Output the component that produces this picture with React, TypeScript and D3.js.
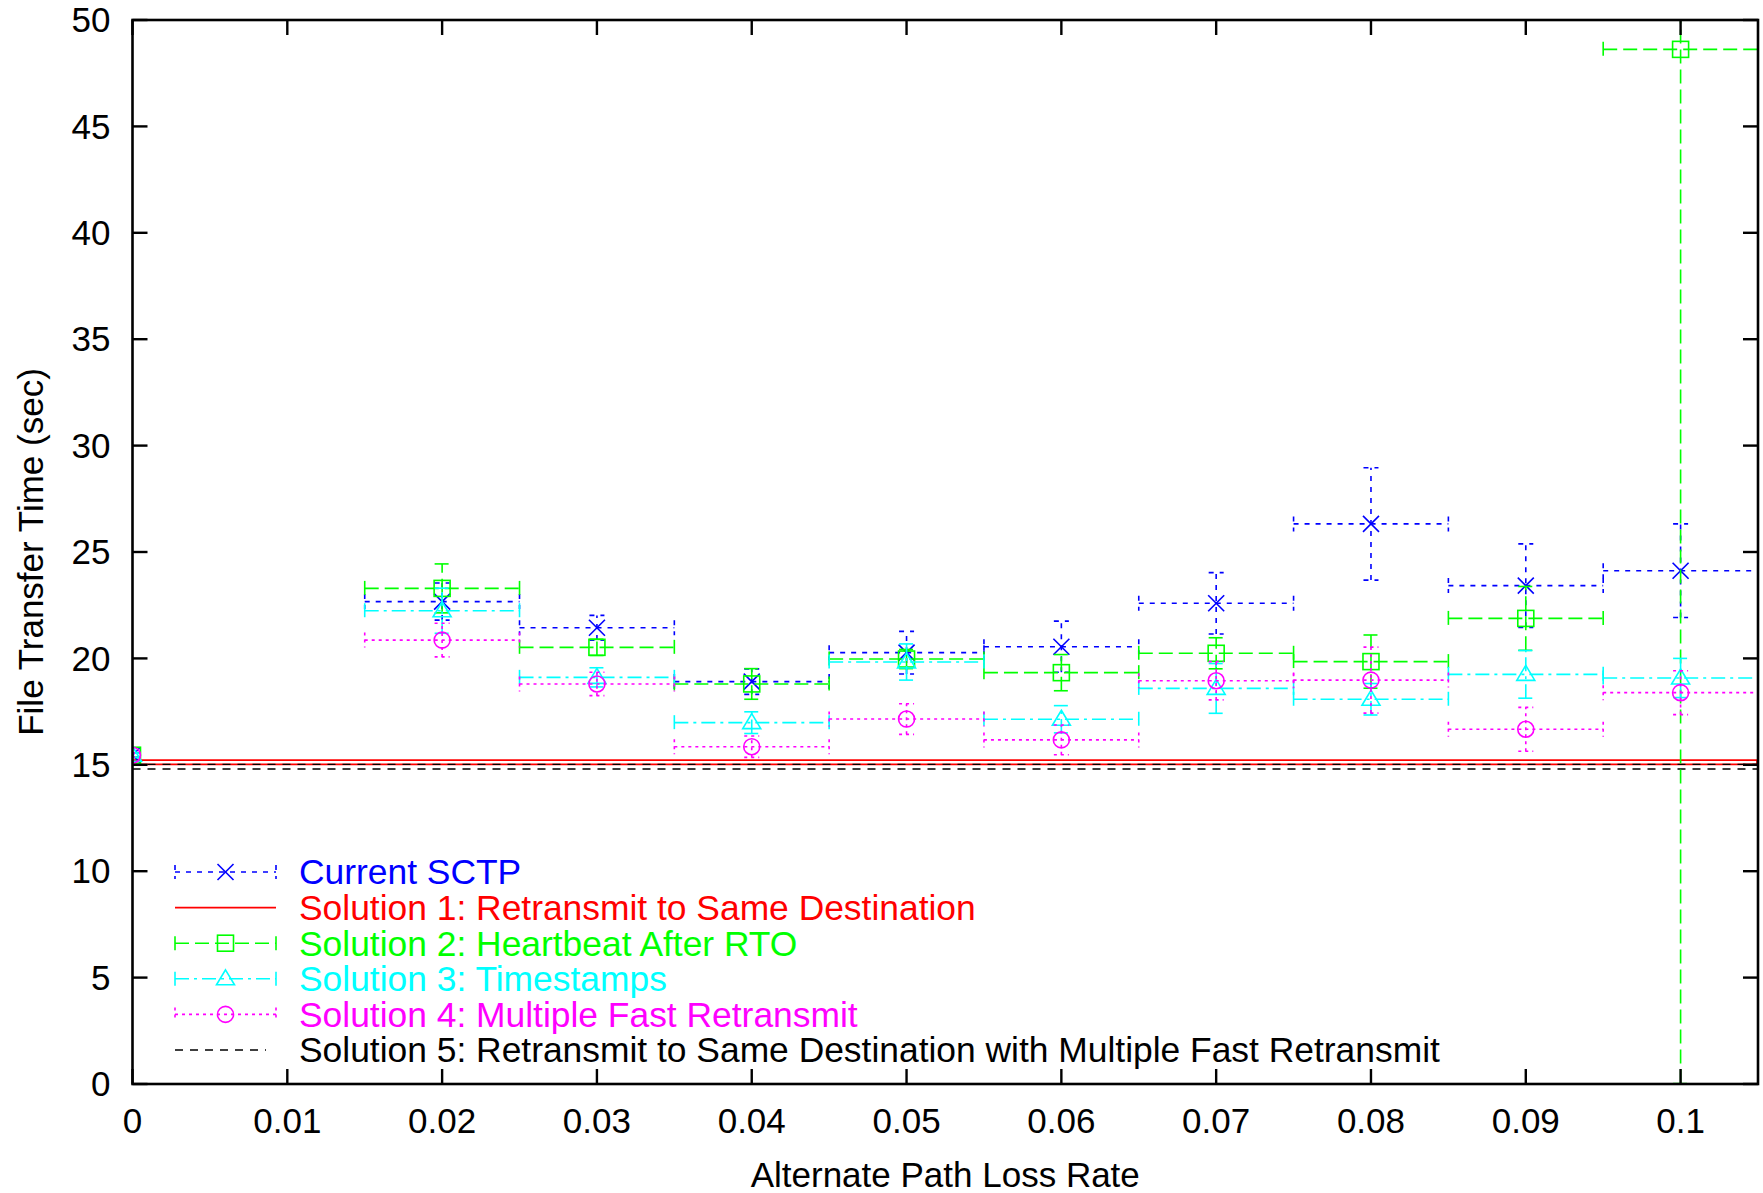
import * as d3 from 'd3';

// x positions (loss rate) shared by all measured series
const lossRates = [0, 0.02, 0.03, 0.04, 0.05, 0.06, 0.07, 0.08, 0.09, 0.1];
const xHalfWidth = [0, 0.005, 0.005, 0.005, 0.005, 0.005, 0.005, 0.005, 0.005, 0.005];

const currentMean = [15.45, 22.67, 21.44, 18.91, 20.27, 20.55, 22.59, 26.32, 23.42, 24.12];
const currentErr = [0.1, 0.87, 0.58, 0.6, 1.0, 1.2, 1.44, 2.64, 1.96, 2.2];

const sol2Mean = [15.45, 23.29, 20.52, 18.8, 19.97, 19.33, 20.24, 19.85, 21.88, 48.62];
const sol2Err = [0.1, 1.15, 0.38, 0.72, 0.45, 0.85, 0.73, 1.25, 1.5, 48.6];

const sol3Mean = [15.45, 22.24, 19.11, 16.98, 19.83, 17.14, 18.59, 18.08, 19.25, 19.08];
const sol3Err = [0.1, 1.06, 0.45, 0.51, 0.85, 0.64, 1.17, 0.74, 1.12, 0.92];

const sol4Mean = [15.45, 20.86, 18.8, 15.85, 17.15, 16.17, 18.95, 18.98, 16.67, 18.39];
const sol4Err = [0.1, 0.79, 0.55, 0.5, 0.72, 0.7, 0.9, 1.55, 1.03, 1.03];

// flat reference results (upper / lower bound lines)
const sol1Levels = [15.22, 15.02];
const sol5Levels = [15.02, 14.8];

const xTicks = [0, 0.01, 0.02, 0.03, 0.04, 0.05, 0.06, 0.07, 0.08, 0.09, 0.1];
const yTicks = [0, 5, 10, 15, 20, 25, 30, 35, 40, 45, 50];

const legendLabels = [
  'Current SCTP',
  'Solution 1: Retransmit to Same Destination',
  'Solution 2: Heartbeat After RTO',
  'Solution 3: Timestamps',
  'Solution 4: Multiple Fast Retransmit',
  'Solution 5: Retransmit to Same Destination with Multiple Fast Retransmit',
];

const width = 1763;
const height = 1193;
const margin = { top: 20, right: 5, bottom: 109, left: 132.5 };
const FONT = "'Liberation Sans', Arial, Helvetica, sans-serif";
const FS = 35;

type Marker = 'x' | 'square' | 'triangle' | 'circle';

const series = [
  { mean: currentMean, err: currentErr, color: '#0000ff', dash: '5,6', marker: 'x' as Marker },
  { mean: sol2Mean, err: sol2Err, color: '#00ff00', dash: '14,6', marker: 'square' as Marker },
  { mean: sol3Mean, err: sol3Err, color: '#00ffff', dash: '14,5,3,5', marker: 'triangle' as Marker },
  { mean: sol4Mean, err: sol4Err, color: '#ff00ff', dash: '3,4', marker: 'circle' as Marker },
];

function MarkerShape({ kind, x, y, color }: { kind: Marker; x: number; y: number; color: string }) {
  const s = 8;
  const common = { fill: 'none', stroke: color, strokeWidth: 1.6 };
  if (kind === 'x')
    return (
      <g {...common}>
        <line x1={x - s} y1={y - s} x2={x + s} y2={y + s} />
        <line x1={x - s} y1={y + s} x2={x + s} y2={y - s} />
      </g>
    );
  if (kind === 'square') return <rect x={x - s} y={y - s} width={2 * s} height={2 * s} {...common} />;
  if (kind === 'triangle')
    return <path d={`M${x},${y - s - 1}L${x + s + 1},${y + s - 2}L${x - s - 1},${y + s - 2}Z`} {...common} />;
  return <circle cx={x} cy={y} r={s} {...common} />;
}

export default function App() {
  const x = d3
    .scaleLinear()
    .domain([0, 0.105])
    .range([margin.left, width - margin.right]);
  const y = d3
    .scaleLinear()
    .domain([0, 50])
    .range([height - margin.bottom, margin.top]);

  const [x0, x1] = x.range();
  const [y0, y1] = y.range();
  const cap = 7.5;

  return (
    <svg
      width={width}
      height={height}
      style={{ position: 'absolute', left: 0, top: 0, background: '#fff' }}
      fontFamily={FONT}
    >
      <defs>
        <clipPath id="plot">
          <rect x={x0} y={y1} width={x1 - x0} height={y0 - y1} />
        </clipPath>
      </defs>

      {/* flat reference results */}
      <g clipPath="url(#plot)">
        {sol1Levels.map((v, i) => (
          <line key={'s1' + i} x1={x0} x2={x1} y1={y(v)} y2={y(v)} stroke="#ff0000" strokeWidth={1.6} />
        ))}
        <line x1={x1 - 1} x2={x1 - 1} y1={y(sol1Levels[0])} y2={y(sol1Levels[1])} stroke="#ff0000" strokeWidth={1.6} />
        {sol5Levels.map((v, i) => (
          <line key={'s5' + i} x1={x0} x2={x1} y1={y(v)} y2={y(v)} stroke="#000" strokeWidth={1.4} strokeDasharray="8,7" />
        ))}
      </g>

      {/* error bars with markers */}
      <g clipPath="url(#plot)">
        {series.map((s, si) => (
          <g key={si}>
            {lossRates.map((r, i) => {
              const cx = x(r);
              const cy = y(s.mean[i]);
              const lo = y(s.mean[i] - s.err[i]);
              const hi = y(s.mean[i] + s.err[i]);
              const xl = x(r - xHalfWidth[i]);
              const xr = x(r + xHalfWidth[i]);
              const st = { stroke: s.color, strokeWidth: 1.6, strokeDasharray: s.dash, fill: 'none' };
              return (
                <g key={i}>
                  <line x1={cx} x2={cx} y1={lo} y2={hi} {...st} />
                  <line x1={cx - cap} x2={cx + cap} y1={lo} y2={lo} {...st} />
                  <line x1={cx - cap} x2={cx + cap} y1={hi} y2={hi} {...st} />
                  {xHalfWidth[i] > 0 && (
                    <>
                      <line x1={xl} x2={xr} y1={cy} y2={cy} {...st} />
                      <line x1={xl} x2={xl} y1={cy - cap} y2={cy + cap} {...st} />
                      <line x1={xr} x2={xr} y1={cy - cap} y2={cy + cap} {...st} />
                    </>
                  )}
                  <MarkerShape kind={s.marker} x={cx} y={cy} color={s.color} />
                </g>
              );
            })}
          </g>
        ))}
      </g>

      {/* frame and ticks on all sides */}
      <rect x={x0} y={y1} width={x1 - x0} height={y0 - y1} fill="none" stroke="#000" strokeWidth={2.6} />
      {xTicks.map((t) => (
        <g key={'xt' + t} stroke="#000" strokeWidth={2.4}>
          <line x1={x(t)} x2={x(t)} y1={y0} y2={y0 - 15} />
          <line x1={x(t)} x2={x(t)} y1={y1} y2={y1 + 15} />
        </g>
      ))}
      {yTicks.map((t) => (
        <g key={'yt' + t} stroke="#000" strokeWidth={2.4}>
          <line x1={x0} x2={x0 + 15} y1={y(t)} y2={y(t)} />
          <line x1={x1} x2={x1 - 15} y1={y(t)} y2={y(t)} />
        </g>
      ))}
      {xTicks.map((t) => (
        <text key={'xl' + t} x={x(t)} y={y0 + 48.5} textAnchor="middle" fontSize={FS}>
          {String(t)}
        </text>
      ))}
      {yTicks.map((t) => (
        <text key={'yl' + t} x={x0 - 22} y={y(t)} dy="0.35em" textAnchor="end" fontSize={FS}>
          {t}
        </text>
      ))}
      <text x={(x0 + x1) / 2} y={1187} textAnchor="middle" fontSize={FS}>
        Alternate Path Loss Rate
      </text>
      <text
        transform={`translate(31,${(y0 + y1) / 2}) rotate(-90)`}
        textAnchor="middle"
        dy="0.35em"
        fontSize={FS}
      >
        File Transfer Time (sec)
      </text>

      {/* legend */}
      {legendLabels.map((label, i) => {
        const ly = 872 + i * 35.6;
        const lx0 = 175;
        const lx1 = 276;
        const mid = (lx0 + lx1) / 2;
        let sample: JSX.Element;
        let color = '#000';
        if (i === 1) {
          color = '#ff0000';
          sample = <line x1={lx0} x2={lx1} y1={ly} y2={ly} stroke={color} strokeWidth={1.6} />;
        } else if (i === 5) {
          sample = <line x1={lx0} x2={lx1 - 10} y1={ly} y2={ly} stroke="#000" strokeWidth={1.4} strokeDasharray="8,7" />;
        } else {
          const s = series[i === 0 ? 0 : i - 1];
          color = s.color;
          const st = { stroke: s.color, strokeWidth: 1.6, strokeDasharray: s.dash };
          sample = (
            <g>
              <line x1={lx0} x2={lx1} y1={ly} y2={ly} {...st} />
              <line x1={lx0} x2={lx0} y1={ly - 7} y2={ly + 7} {...st} />
              <line x1={lx1} x2={lx1} y1={ly - 7} y2={ly + 7} {...st} />
              <MarkerShape kind={s.marker} x={mid} y={ly} color={s.color} />
            </g>
          );
        }
        return (
          <g key={label}>
            {sample}
            <text x={299} y={ly} dy="0.35em" fontSize={35.4} fill={color}>
              {label}
            </text>
          </g>
        );
      })}
    </svg>
  );
}
